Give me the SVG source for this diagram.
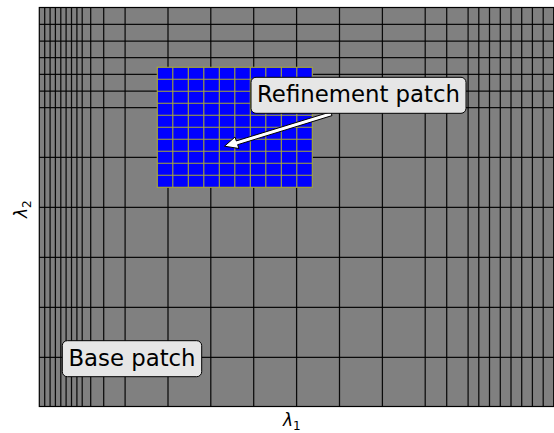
<svg xmlns="http://www.w3.org/2000/svg" width="554" height="433" viewBox="0 0 554 433">
  <style>
    .base { fill: #808080; stroke: #000; stroke-width: 1.2; }
    .gl { stroke: #000; stroke-width: 1.25; stroke-opacity: 0.92; }
    .pl { stroke: #a8a832; stroke-width: 1.1; }
    .box { fill: #e6e6e6; stroke: #000; stroke-width: 1; }
    .lbl { font-family: "DejaVu Sans", sans-serif; font-size: 22.8px; fill: #000; }
    .ax { font-family: "DejaVu Sans", sans-serif; font-size: 17px; font-style: italic; fill: #000; }
  </style>
  <rect width="554" height="433" fill="#fff"/>
  <g id="base-patch">
    <rect class="base" x="39.3" y="7.5" width="514.4" height="399"/>
    <g class="gl">
      <path d="M44.7 7.5V406.5M50.1 7.5V406.5M55.4 7.5V406.5M60.8 7.5V406.5M66.1 7.5V406.5M71.5 7.5V406.5M76.9 7.5V406.5M82.2 7.5V406.5M90.7 7.5V406.5M103.7 7.5V406.5M125.1 7.5V406.5M168 7.5V406.5M210.8 7.5V406.5M253.7 7.5V406.5M296.6 7.5V406.5M339.5 7.5V406.5M382.4 7.5V406.5M425.2 7.5V406.5M446.7 7.5V406.5M468.1 7.5V406.5M478.8 7.5V406.5M489.5 7.5V406.5M500.3 7.5V406.5M511 7.5V406.5M521.7 7.5V406.5M532.4 7.5V406.5M543.2 7.5V406.5"/>
      <path d="M39.3 24.3H553.7M39.3 41H553.7M39.3 57.7H553.7M39.3 74.3H553.7M39.3 91H553.7M39.3 107.7H553.7M39.3 157.3H553.7M39.3 207.3H553.7M39.3 257.3H553.7M39.3 307.3H553.7M39.3 357.3H553.7"/>
    </g>
  </g>
  <g id="refinement-patch">
    <rect x="157.3" y="67.3" width="155" height="120" fill="#0000ff" stroke="#a8a832" stroke-width="1.1"/>
    <path class="pl" d="M172.8 67.3V187.3M188.3 67.3V187.3M203.8 67.3V187.3M219.3 67.3V187.3M234.8 67.3V187.3M250.3 67.3V187.3M265.8 67.3V187.3M281.3 67.3V187.3M296.8 67.3V187.3M157.3 79.3H312.3M157.3 91.3H312.3M157.3 103.3H312.3M157.3 115.3H312.3M157.3 127.3H312.3M157.3 139.3H312.3M157.3 151.3H312.3M157.3 163.3H312.3M157.3 175.3H312.3"/>
  </g>
  <g id="connectors">
    <polygon points="224.5,146.2 239,148.5 237.6,144.7 332,115.6 330.8,111.8 236.3,140.9 235,137" fill="#fff" stroke="#000" stroke-width="1" stroke-linejoin="miter"/>
  </g>
  <g id="label-refinement">
    <rect class="box" x="251" y="77.3" width="215" height="36" rx="5"/>
    <text class="lbl" x="358.5" y="101.7" text-anchor="middle">Refinement patch</text>
  </g>
  <g id="label-base">
    <rect class="box" x="62.3" y="340.7" width="139.4" height="36" rx="5"/>
    <text class="lbl" x="132" y="365.7" text-anchor="middle">Base patch</text>
  </g>
  <g id="axis-labels">
    <text class="ax" x="283" y="426">λ<tspan font-size="12" font-style="normal" dy="3.5">1</tspan></text>
    <text class="ax" transform="translate(27,218) rotate(-90)">λ<tspan font-size="12" font-style="normal" dy="3.5">2</tspan></text>
  </g>
</svg>
